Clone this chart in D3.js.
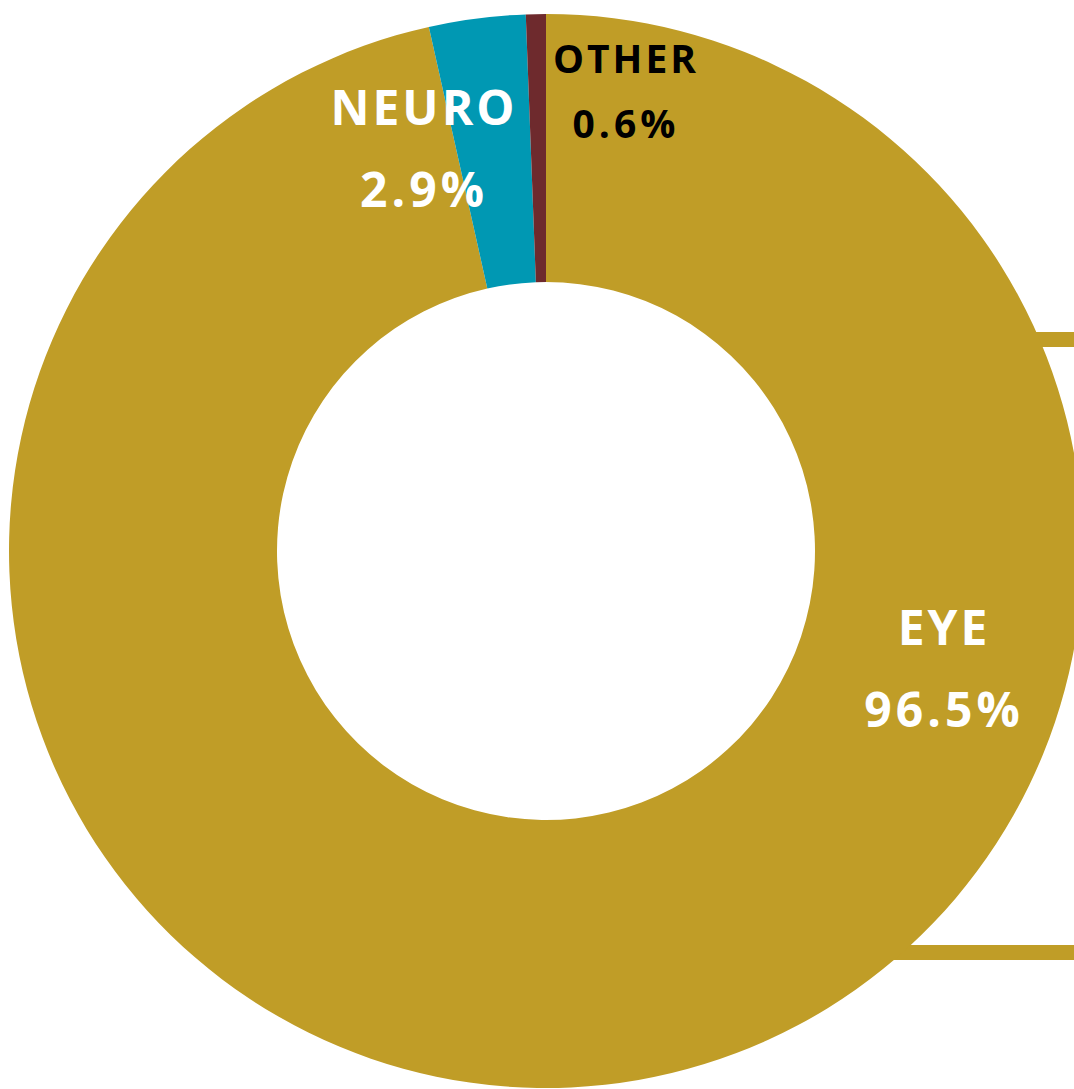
<!DOCTYPE html>
<html>
<head>
<meta charset="utf-8">
<script src="https://cdn.jsdelivr.net/npm/d3@7"></script>
<style>
  html, body { margin: 0; padding: 0; background: #fff; overflow: hidden; }
  .slice-label { font-family: "Open Sans", sans-serif; font-weight: 700; }
</style>
</head>
<body>
<svg id="donut"></svg>
<script>
// data
const categories = ["EYE", "NEURO", "OTHER"];
const shares = [96.5, 2.9, 0.6];
const shareLabels = ["96.5%", "2.9%", "0.6%"];
const colors = ["#c09d27", "#0098b3", "#6e2a2d"];

const width = 1074, height = 1089;
const cx = 546, cy = 551;
const outerR = 537, innerR = 269;

// where each label sits (name baseline, value baseline), drawing layout only
const labelLayout = {
  EYE:   { x: 944, y1: 645, y2: 727, size: 48, fill: "#fff" },
  NEURO: { x: 424, y1: 125, y2: 207, size: 48, fill: "#fff" },
  OTHER: { x: 626, y1: 73,  y2: 138, size: 39, fill: "#000" }
};

const svg = d3.select("#donut")
  .attr("width", width)
  .attr("height", height);

// the two gold bands running off to the right edge
svg.append("rect")
  .attr("x", 960).attr("y", 332)
  .attr("width", width - 960).attr("height", 15)
  .attr("fill", colors[0]);
svg.append("rect")
  .attr("x", 860).attr("y", 945)
  .attr("width", width - 860).attr("height", 15)
  .attr("fill", colors[0]);

const pie = d3.pie().sort(null).value(d => d);
const arc = d3.arc().innerRadius(innerR).outerRadius(outerR);

const g = svg.append("g").attr("transform", `translate(${cx},${cy})`);

g.selectAll("path")
  .data(pie(shares))
  .join("path")
  .attr("d", arc)
  .attr("fill", (d, i) => colors[i]);

// labels
categories.forEach((c, i) => {
  const L = labelLayout[c];
  svg.append("text")
    .attr("class", "slice-label")
    .attr("x", L.x).attr("y", L.y1)
    .attr("text-anchor", "middle")
    .style("font-size", L.size + "px")
    .style("letter-spacing", "3px")
    .attr("fill", L.fill)
    .text(c);
  svg.append("text")
    .attr("class", "slice-label")
    .attr("x", L.x).attr("y", L.y2)
    .attr("text-anchor", "middle")
    .style("font-size", L.size + "px")
    .style("letter-spacing", "4px")
    .attr("fill", L.fill)
    .text(shareLabels[i]);
});
</script>
</body>
</html>
